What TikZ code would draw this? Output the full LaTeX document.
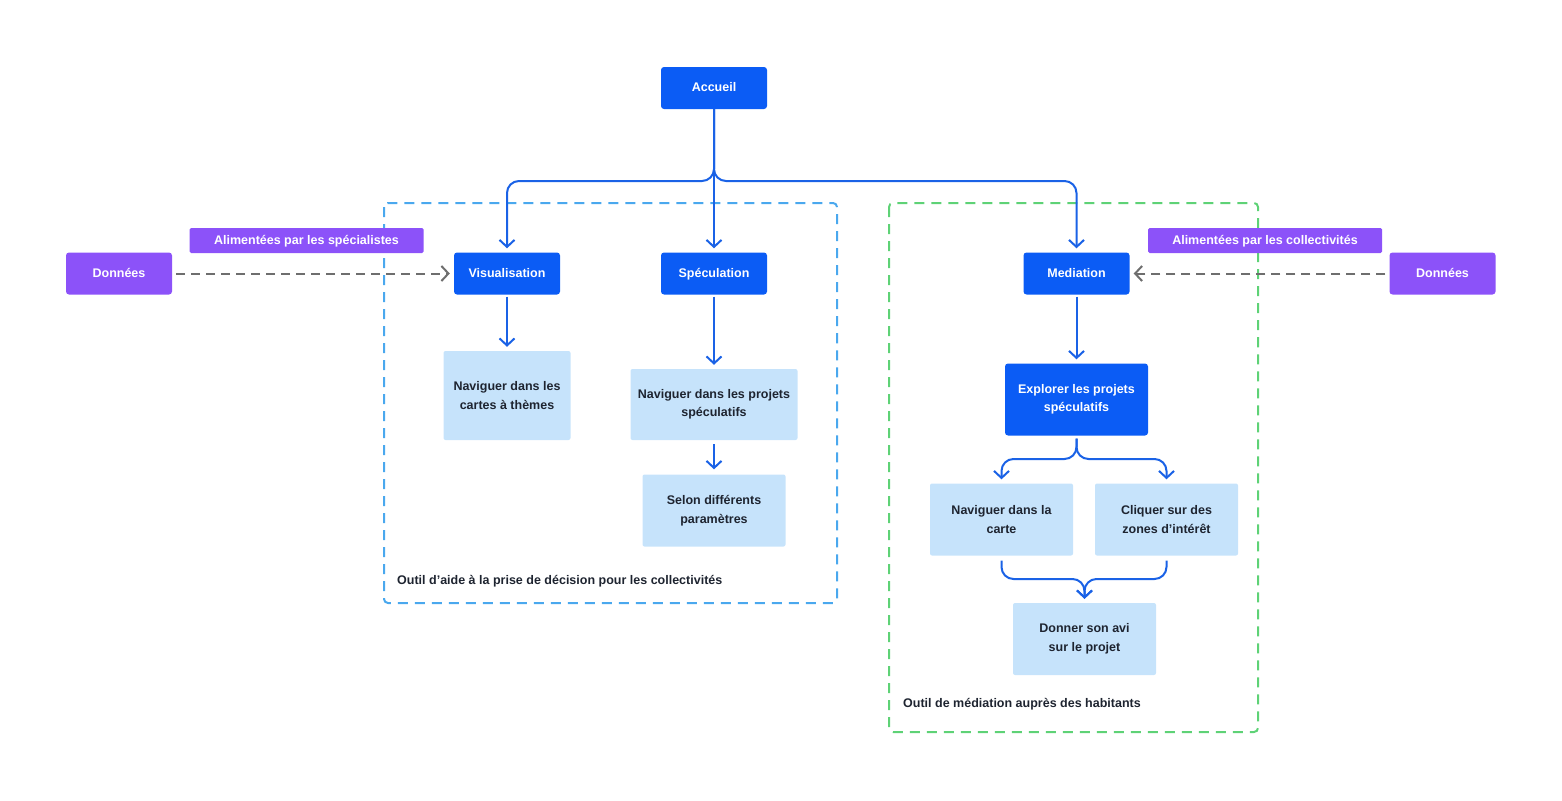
\documentclass[tikz,border=0pt]{standalone}
\usepackage{fontspec}
\setmainfont{Liberation Sans}
\usetikzlibrary{arrows.meta}
\definecolor{mblue}{HTML}{0B5CF5}
\definecolor{lblue}{HTML}{C6E3FB}
\definecolor{purp}{HTML}{8C52F9}
\definecolor{dtext}{HTML}{1E2430}
\definecolor{conn}{HTML}{1A62E6}
\definecolor{dgray}{HTML}{6E6E6E}
\definecolor{boxblue}{HTML}{4AA8EE}
\definecolor{boxgreen}{HTML}{5ED276}
\tikzset{
  lbl/.style={font=\bfseries\fontsize{12.5}{18.5}\selectfont, inner sep=0pt, align=center},
  one/.style={text height=9pt, text depth=1pt},
  mainbox/.style={lbl, one, fill=mblue, text=white, rounded corners=3pt, minimum width=106pt, minimum height=42pt},
  databox/.style={lbl, one, fill=purp, text=white, rounded corners=3pt, minimum width=106pt, minimum height=42pt},
  tagbox/.style={lbl, one, fill=purp, text=white, rounded corners=1.5pt, minimum width=234pt, minimum height=25pt},
  subbox/.style={lbl, fill=lblue, text=dtext, rounded corners=2pt, minimum width=143pt, minimum height=72pt},
  darkbox/.style={lbl, fill=mblue, text=white, rounded corners=3pt, minimum width=143pt, minimum height=72pt},
  caption/.style={lbl, one, text=dtext, anchor=west},
  tip/.style={-{Straight Barb[length=7pt,width=15pt,line width=2pt]}},
  link/.style={draw=conn, line width=2pt, rounded corners=12pt, tip},
  feed/.style={draw=dgray, line width=2pt, dash pattern=on 9pt off 6pt, tip},
  group/.style={line width=2pt, dash pattern=on 10pt off 7pt, rounded corners=4pt}
}
\begin{document}
\begin{tikzpicture}[x=1pt,y=-1pt]
\useasboundingbox (0,0) rectangle (1562,800);
% groups
\draw[group, draw=boxblue] (384,203) rectangle (837,603);
\draw[group, draw=boxgreen] (889,203) rectangle (1258,732);
% nodes
\node[mainbox] (acc) at (714,88) {Accueil};
\node[mainbox] (vis) at (507,273.5) {Visualisation};
\node[mainbox] (spec) at (714,273.5) {Spéculation};
\node[mainbox] (med) at (1076.5,273.5) {Mediation};
\node[databox] (donL) at (119,273.5) {Données};
\node[databox] (donR) at (1442.5,273.5) {Données};
\node[tagbox] (tagL) at (306.5,240.5) {Alimentées par les spécialistes};
\node[tagbox] (tagR) at (1265,240.5) {Alimentées par les collectivités};
\node[subbox, minimum width=127pt, minimum height=89pt] (cart) at (507,395.5) {Naviguer dans les\\cartes à thèmes};
\node[subbox, minimum width=167pt, minimum height=71pt] (proj) at (714,404.5) {Naviguer dans les projets\\spéculatifs};
\node[subbox] (selon) at (714,510.5) {Selon différents\\paramètres};
\node[darkbox] (expl) at (1076.5,399.5) {Explorer les projets\\spéculatifs};
\node[subbox] (navc) at (1001.5,519.5) {Naviguer dans la\\carte};
\node[subbox] (cliq) at (1166.5,519.5) {Cliquer sur des\\zones d’intérêt};
\node[subbox] (donn) at (1084.5,639) {Donner son avi\\sur le projet};
\node[caption] (capL) at (397,580) {Outil d’aide à la prise de décision pour les collectivités};
\node[caption] (capR) at (903,703) {Outil de médiation auprès des habitants};
% connectors
\draw[link] (acc.south) |- (vis.north |- 0,181) -- ([yshift=4pt]vis.north);
\draw[link] (acc.south) -- ([yshift=4pt]spec.north);
\draw[link] (acc.south) |- (med.north |- 0,181) -- ([yshift=4pt]med.north);
\draw[link] ([yshift=-2pt]vis.south) -- ([yshift=4pt]cart.north);
\draw[link] ([yshift=-2pt]spec.south) -- ([yshift=4pt]proj.north);
\draw[link] ([yshift=-4pt]proj.south) -- ([yshift=5pt]selon.north);
\draw[link] ([yshift=-2pt]med.south) -- ([yshift=4pt]expl.north);
\draw[link] ([yshift=-3pt]expl.south) |- (navc.north |- 0,459) -- ([yshift=4pt]navc.north);
\draw[link] ([yshift=-3pt]expl.south) |- (cliq.north |- 0,459) -- ([yshift=4pt]cliq.north);
\draw[link] ([yshift=-5pt]navc.south) |- (donn.north |- 0,579) -- ([yshift=4pt]donn.north);
\draw[link] ([yshift=-5pt]cliq.south) |- (donn.north |- 0,579) -- ([yshift=4pt]donn.north);
\draw[feed] ([xshift=4pt]donL.east) -- ([xshift=-4pt]vis.west);
\draw[feed] ([xshift=-4pt]donR.west) -- ([xshift=4pt]med.east);
\end{tikzpicture}
\end{document}
